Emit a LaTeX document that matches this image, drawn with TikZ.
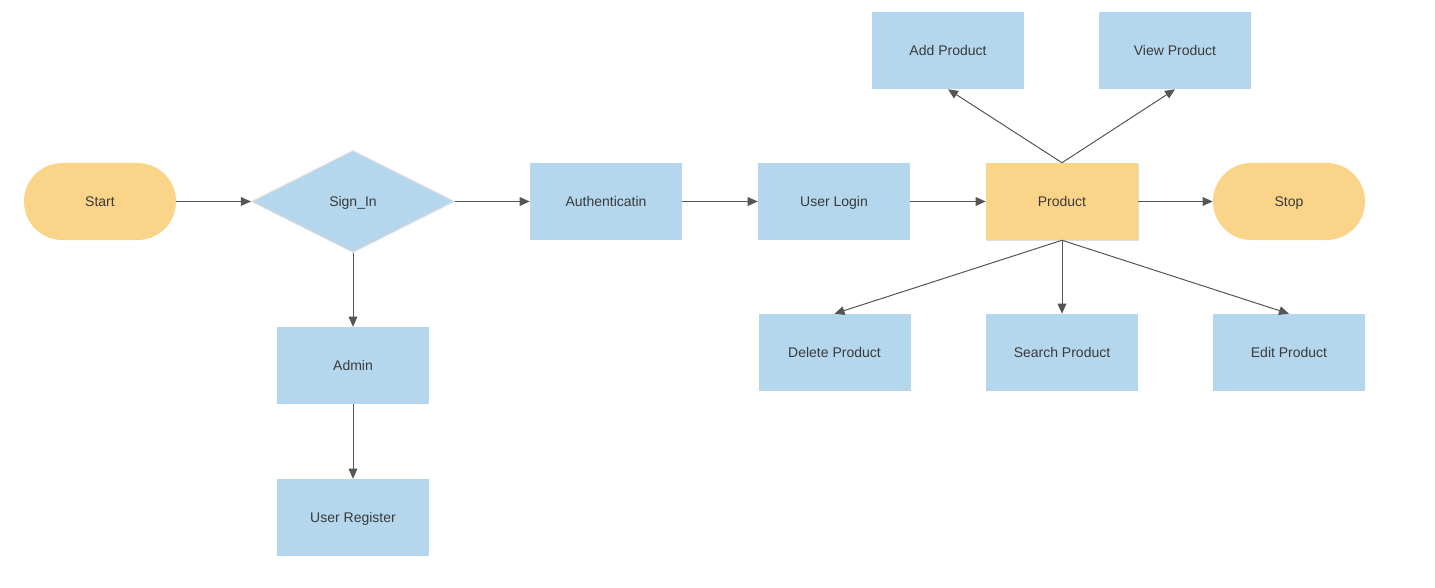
\documentclass[tikz,border=0pt]{standalone}
\usepackage{fontspec}
\setmainfont{Liberation Sans}
\usetikzlibrary{arrows.meta,shapes.geometric,shadows}
\definecolor{boxblue}{HTML}{B4D7EE}
\definecolor{boxorange}{HTML}{FAD488}
\definecolor{txt}{HTML}{3A3A3A}
\definecolor{ln}{HTML}{555555}
\begin{document}
\begin{tikzpicture}[x=0.75pt,y=-0.75pt,
  every node/.style={font=\fontsize{10.5}{12}\selectfont, text=txt, inner sep=0pt, text height=7.6pt, text depth=0.6pt},
  bbox/.style={rectangle, fill=boxblue, minimum width=114pt, minimum height=57.75pt},
  pill/.style={rectangle, rounded corners=28.8pt, fill=boxorange, minimum width=114pt, minimum height=57.75pt},
  obox/.style={rectangle, fill=boxorange, minimum width=114pt, minimum height=57.75pt,
    drop shadow={opacity=0.25, shadow xshift=1pt, shadow yshift=-1pt}},
  dia/.style={diamond, fill=boxblue, draw=black!12, line width=0.8pt, minimum width=152.25pt, minimum height=76.5pt, aspect=2},
  conn/.style={draw=ln, line width=0.75pt, -{Triangle[length=7.5pt,width=6.5pt]}}
]
\useasboundingbox (0,0) rectangle (1435,588);
\node[pill] (start) at (100,201.5) {Start};
\node[dia] (sign) at (353,201.5) {Sign\_In};
\node[bbox] (auth) at (606,201.5) {Authenticatin};
\node[bbox] (login) at (834,201.5) {User Login};
\node[obox] (prod) at (1062,201.5) {Product};
\node[pill] (stop) at (1289,201.5) {Stop};
\node[bbox] (add) at (948,50.5) {Add Product};
\node[bbox] (view) at (1175,50.5) {View Product};
\node[bbox] (admin) at (353,365.5) {Admin};
\node[bbox] (reg) at (353,517.5) {User Register};
\node[bbox] (del) at (834.5,352.5) {Delete Product};
\node[bbox] (search) at (1062,352.5) {Search Product};
\node[bbox] (edit) at (1289,352.5) {Edit Product};
\draw[conn] (start) -- (sign);
\draw[conn] (sign) -- (auth);
\draw[conn] (auth) -- (login);
\draw[conn] (login) -- (prod);
\draw[conn] (prod) -- (stop);
\draw[conn] (sign.south) -- (admin.north);
\draw[conn] (admin) -- (reg);
\draw[conn] (prod.north) -- (add.south);
\draw[conn] (prod.north) -- (view.south);
\draw[conn] (prod.south) -- (del.north);
\draw[conn] (prod.south) -- (search.north);
\draw[conn] (prod.south) -- (edit.north);
\end{tikzpicture}
\end{document}
